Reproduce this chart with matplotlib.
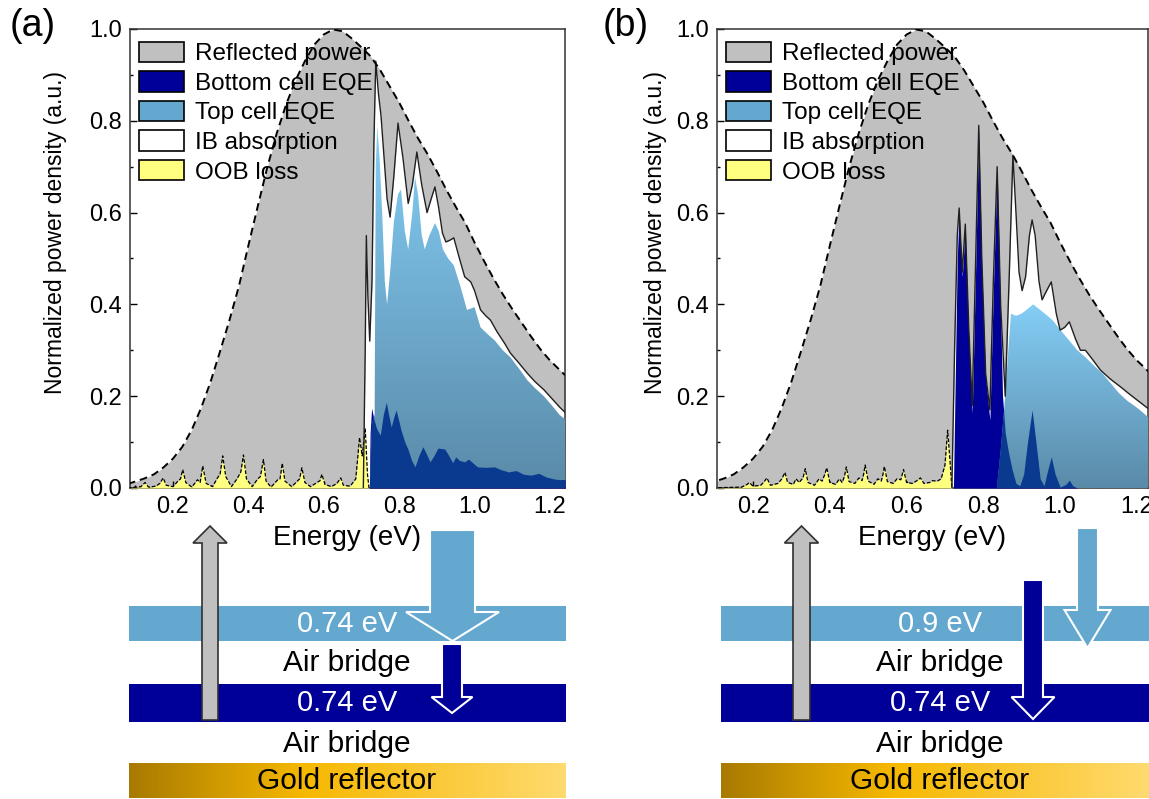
import numpy as np
import matplotlib
matplotlib.use("Agg")
import matplotlib.pyplot as plt
from matplotlib.colors import LinearSegmentedColormap
from matplotlib.patches import Patch, Rectangle, FancyArrow
from matplotlib.ticker import MultipleLocator, FormatStrFormatter

plt.rcParams["font.family"] = ["Liberation Sans", "DejaVu Sans"]

# ---- spectra (energy in eV, normalized power density) ----
# emitted spectrum envelope (dashed), same for both panels
env_e = [0.08, 0.10, 0.125, 0.15, 0.175, 0.20, 0.225, 0.25, 0.275, 0.30, 0.325, 0.35,
         0.375, 0.40, 0.425, 0.45, 0.475, 0.50, 0.525, 0.55, 0.575, 0.60, 0.625, 0.65,
         0.675, 0.70, 0.725, 0.75, 0.775, 0.80, 0.825, 0.85, 0.875, 0.90, 0.925, 0.95,
         0.975, 1.00, 1.025, 1.05, 1.075, 1.10, 1.125, 1.15, 1.175, 1.20, 1.225, 1.24]
env_p = [0.009, 0.014, 0.021, 0.030, 0.045, 0.064, 0.090, 0.127, 0.175, 0.232, 0.298, 0.366,
         0.440, 0.528, 0.614, 0.698, 0.772, 0.835, 0.888, 0.930, 0.966, 0.988, 0.999, 0.995,
         0.979, 0.960, 0.940, 0.910, 0.875, 0.840, 0.800, 0.762, 0.728, 0.690, 0.650, 0.613,
         0.578, 0.535, 0.495, 0.457, 0.422, 0.390, 0.360, 0.330, 0.302, 0.278, 0.258, 0.246]

# (a) out-of-band loss
oob_a_e = [0.08, 0.115, 0.126, 0.135, 0.155, 0.165, 0.174, 0.182, 0.20, 0.212, 0.22, 0.226,
           0.234, 0.25, 0.265, 0.272, 0.279, 0.288, 0.305, 0.318, 0.325, 0.332, 0.34, 0.355,
           0.37, 0.38, 0.387, 0.395, 0.41, 0.425, 0.432, 0.44, 0.447, 0.46, 0.478, 0.484,
           0.49, 0.497, 0.515, 0.53, 0.536, 0.542, 0.55, 0.565, 0.582, 0.59, 0.595, 0.603,
           0.62, 0.635, 0.645, 0.652, 0.67, 0.685, 0.695, 0.702, 0.71, 0.716, 0.72]
oob_a_p = [0.0, 0.003, 0.012, 0.002, 0.004, 0.010, 0.022, 0.006, 0.003, 0.014, 0.020, 0.040,
           0.012, 0.002, 0.018, 0.012, 0.048, 0.010, 0.003, 0.022, 0.030, 0.070, 0.025, 0.003,
           0.020, 0.035, 0.072, 0.020, 0.003, 0.020, 0.025, 0.062, 0.015, 0.002, 0.018, 0.020,
           0.054, 0.015, 0.003, 0.015, 0.020, 0.044, 0.012, 0.003, 0.012, 0.016, 0.030, 0.008,
           0.003, 0.010, 0.022, 0.006, 0.004, 0.020, 0.110, 0.070, 0.130, 0.030, 0.0]

# (a) total absorbed (IB + top + bottom), black line
tot_a_e = [0.705, 0.710, 0.713, 0.717, 0.722, 0.728, 0.733, 0.738, 0.745, 0.752, 0.76, 0.768,
           0.776, 0.786, 0.797, 0.81, 0.824, 0.835, 0.847, 0.86, 0.874, 0.885, 0.895, 0.905,
           0.915, 0.924, 0.935, 0.945, 0.96, 0.974, 0.99, 1.0, 1.016, 1.03, 1.042, 1.06,
           1.08, 1.095, 1.12, 1.14, 1.16, 1.184, 1.205, 1.226, 1.24]
tot_a_p = [0.0, 0.30, 0.55, 0.42, 0.32, 0.45, 0.75, 0.93, 0.86, 0.81, 0.72, 0.63,
           0.59, 0.68, 0.795, 0.72, 0.62, 0.66, 0.732, 0.66, 0.60, 0.63, 0.656, 0.61,
           0.555, 0.536, 0.54, 0.545, 0.50, 0.46, 0.449, 0.43, 0.388, 0.375, 0.366, 0.34,
           0.315, 0.294, 0.27, 0.25, 0.232, 0.214, 0.195, 0.176, 0.165]

# (a) top cell + bottom cell
top_a_e = [0.722, 0.728, 0.735, 0.738, 0.742, 0.748, 0.755, 0.762, 0.768, 0.776, 0.786, 0.797,
           0.805, 0.815, 0.824, 0.835, 0.842, 0.85, 0.86, 0.868, 0.88, 0.895, 0.905, 0.916,
           0.93, 0.945, 0.963, 0.98, 1.0, 1.016, 1.035, 1.053, 1.075, 1.095, 1.12, 1.14,
           1.16, 1.184, 1.205, 1.226, 1.24]
top_a_p = [0.0, 0.14, 0.16, 0.70, 0.79, 0.72, 0.60, 0.45, 0.40, 0.47, 0.58, 0.64,
           0.65, 0.56, 0.52, 0.60, 0.678, 0.64, 0.55, 0.52, 0.55, 0.577, 0.56, 0.52,
           0.50, 0.485, 0.438, 0.388, 0.394, 0.35, 0.335, 0.322, 0.30, 0.285, 0.258, 0.235,
           0.218, 0.20, 0.18, 0.159, 0.15]

# (a) bottom cell
bot_a_e = [0.721, 0.723, 0.727, 0.733, 0.74, 0.75, 0.758, 0.766, 0.772, 0.779, 0.786, 0.792,
           0.798, 0.805, 0.815, 0.824, 0.833, 0.842, 0.852, 0.863, 0.872, 0.882, 0.892, 0.903,
           0.912, 0.921, 0.932, 0.942, 0.95, 0.96, 0.974, 0.984, 0.995, 1.008, 1.03, 1.053,
           1.07, 1.09, 1.11, 1.13, 1.15, 1.17, 1.19, 1.21, 1.226, 1.24]
bot_a_p = [0.0, 0.12, 0.174, 0.15, 0.13, 0.115, 0.16, 0.187, 0.16, 0.133, 0.155, 0.17,
           0.15, 0.126, 0.10, 0.083, 0.06, 0.046, 0.07, 0.09, 0.075, 0.057, 0.07, 0.087,
           0.086, 0.085, 0.07, 0.055, 0.068, 0.06, 0.057, 0.063, 0.055, 0.046, 0.045, 0.046,
           0.04, 0.035, 0.038, 0.03, 0.028, 0.032, 0.024, 0.02, 0.018, 0.018]

# (b) out-of-band loss
oob_b_e = [0.08, 0.17, 0.185, 0.19, 0.20, 0.22, 0.23, 0.236, 0.245, 0.265, 0.275, 0.283,
           0.29, 0.305, 0.312, 0.32, 0.33, 0.336, 0.343, 0.36, 0.372, 0.38, 0.386, 0.392,
           0.40, 0.415, 0.425, 0.432, 0.438, 0.443, 0.45, 0.465, 0.476, 0.484, 0.488, 0.492,
           0.50, 0.515, 0.525, 0.534, 0.538, 0.542, 0.55, 0.565, 0.575, 0.585, 0.592, 0.60,
           0.615, 0.625, 0.636, 0.645, 0.66, 0.667, 0.68, 0.69, 0.70, 0.707, 0.713, 0.718]
oob_b_p = [0.0, 0.002, 0.008, 0.012, 0.004, 0.006, 0.015, 0.022, 0.006, 0.010, 0.020, 0.034,
           0.012, 0.008, 0.020, 0.012, 0.022, 0.042, 0.012, 0.006, 0.020, 0.015, 0.028, 0.044,
           0.012, 0.008, 0.020, 0.012, 0.025, 0.046, 0.014, 0.010, 0.022, 0.016, 0.030, 0.050,
           0.015, 0.008, 0.020, 0.015, 0.028, 0.047, 0.014, 0.010, 0.020, 0.018, 0.040, 0.012,
           0.010, 0.015, 0.022, 0.010, 0.012, 0.016, 0.015, 0.020, 0.050, 0.126, 0.060, 0.0]

# (b) total absorbed
tot_b_e = [0.718, 0.725, 0.732, 0.737, 0.745, 0.753, 0.762, 0.771, 0.78, 0.788, 0.796, 0.806,
           0.817, 0.826, 0.836, 0.845, 0.857, 0.867, 0.877, 0.885, 0.893, 0.901, 0.91, 0.92,
           0.927, 0.935, 0.945, 0.953, 0.965, 0.977, 0.99, 1.0, 1.012, 1.024, 1.04, 1.053,
           1.066, 1.08, 1.105, 1.13, 1.158, 1.18, 1.2, 1.228, 1.24]
tot_b_p = [0.0, 0.30, 0.55, 0.61, 0.47, 0.575, 0.35, 0.18, 0.50, 0.79, 0.50, 0.25,
           0.17, 0.45, 0.70, 0.40, 0.20, 0.45, 0.725, 0.60, 0.47, 0.43, 0.46, 0.55,
           0.584, 0.55, 0.45, 0.41, 0.43, 0.449, 0.38, 0.344, 0.35, 0.362, 0.325, 0.30,
           0.30, 0.285, 0.257, 0.238, 0.22, 0.205, 0.192, 0.174, 0.165]

# (b) top cell + bottom cell
top_b_e = [0.835, 0.845, 0.855, 0.865, 0.872, 0.885, 0.90, 0.915, 0.93, 0.945, 0.96, 0.98,
           1.0, 1.023, 1.045, 1.066, 1.09, 1.11, 1.13, 1.153, 1.175, 1.197, 1.215, 1.228, 1.24]
top_b_p = [0.0, 0.08, 0.18, 0.30, 0.38, 0.375, 0.38, 0.39, 0.40, 0.39, 0.38, 0.366,
           0.345, 0.322, 0.30, 0.285, 0.265, 0.25, 0.23, 0.207, 0.19, 0.177, 0.165, 0.155, 0.15]

# (b) bottom cell
bot_b_e = [0.722, 0.727, 0.732, 0.737, 0.745, 0.753, 0.762, 0.771, 0.78, 0.788, 0.796, 0.806,
           0.817, 0.826, 0.836, 0.843, 0.85, 0.857, 0.865, 0.875, 0.885, 0.895, 0.905, 0.915,
           0.927, 0.937, 0.948, 0.958, 0.968, 0.977, 0.987, 1.0, 1.015, 1.024, 1.033, 1.045, 1.24]
bot_b_p = [0.0, 0.25, 0.50, 0.606, 0.46, 0.569, 0.33, 0.163, 0.48, 0.787, 0.48, 0.24,
           0.148, 0.43, 0.697, 0.45, 0.20, 0.12, 0.08, 0.04, 0.01, 0.005, 0.03, 0.10,
           0.17, 0.10, 0.02, 0.005, 0.04, 0.068, 0.03, 0.002, 0.008, 0.017, 0.005, 0.0, 0.0]

legend_labels = ["Reflected power", "Bottom cell EQE", "Top cell EQE", "IB absorption", "OOB loss"]

C_GRAY = "#c0c0c0"
C_NAVY = "#000099"
C_NAVY_MIX = "#0a3a90"
C_TOP = "#64a8d0"
C_TOP_HI = "#84cef6"
C_TOP_LO = "#5a8aa8"
C_OOB = "#ffff80"


def gradient_fill(ax, x, y, c_top, c_bot, zorder):
    poly = ax.fill_between(x, 0, y, color="none", lw=0)
    path = poly.get_paths()[0]
    cmap = LinearSegmentedColormap.from_list("grad", [c_bot, c_top])
    img = ax.imshow(np.linspace(0, 1, 256).reshape(-1, 1), cmap=cmap, aspect="auto",
                    origin="lower", extent=[min(x), max(x), 0, max(y)], zorder=zorder)
    img.set_clip_path(path, transform=ax.transData)
    return path


def draw_panel(ax, oob, tot, top, bot, xlim):
    ax.fill_between(env_e, 0, env_p, color=C_GRAY, lw=0, zorder=1)
    ax.fill_between(tot[0], 0, tot[1], color="white", lw=0, zorder=2)
    ax.fill_between(bot[0], 0, bot[1], color=C_NAVY, lw=0, zorder=3)
    clip = gradient_fill(ax, top[0], top[1], C_TOP_HI, C_TOP_LO, zorder=4)
    mix = ax.fill_between(bot[0], 0, bot[1], color=C_NAVY_MIX, lw=0, zorder=5)
    mix.set_clip_path(clip, transform=ax.transData)
    ax.fill_between(oob[0], 0, oob[1], color=C_OOB, lw=0, zorder=5)
    ax.plot(oob[0], oob[1], color="black", lw=0.9, ls=(0, (3, 1.5)), zorder=6)
    ax.plot(tot[0], tot[1], color="#202020", lw=1.0, zorder=6)
    ax.plot(env_e, env_p, color="black", lw=1.4, ls=(0, (4, 2.5)), zorder=7)

    ax.set_xlim(*xlim)
    ax.set_ylim(0, 1.0)
    ax.xaxis.set_major_locator(MultipleLocator(0.2))
    ax.xaxis.set_minor_locator(MultipleLocator(0.1))
    ax.yaxis.set_major_locator(MultipleLocator(0.2))
    ax.yaxis.set_minor_locator(MultipleLocator(0.1))
    ax.xaxis.set_major_formatter(FormatStrFormatter("%.1f"))
    ax.yaxis.set_major_formatter(FormatStrFormatter("%.1f"))
    ax.tick_params(which="both", direction="in", labelsize=17, top=False, right=False)
    ax.tick_params(which="major", length=5, width=1, pad=6)
    ax.tick_params(which="minor", length=2.5, width=1)
    for s in ax.spines.values():
        s.set_linewidth(1.1)
        s.set_color("#333333")
    ax.set_xlabel("Energy (eV)", fontsize=20, labelpad=5)
    ax.set_ylabel("Normalized power density (a.u.)", fontsize=16.5)

    handles = [Patch(facecolor=c, edgecolor="black", lw=1.2)
               for c in [C_GRAY, C_NAVY, C_TOP, "white", C_OOB]]
    ax.legend(handles, legend_labels, loc="upper left", bbox_to_anchor=(0.02, 0.972),
              frameon=False, fontsize=17.5, handlelength=1.85, handleheight=0.9,
              handletextpad=0.45, labelspacing=0.25, borderpad=0, borderaxespad=0).set_zorder(10)


fig = plt.figure(figsize=(11.49, 7.99), dpi=100)

# schematic layer in pixel coordinates
sk = fig.add_axes([0, 0, 1, 1], zorder=-1)
sk.set_xlim(0, 1149)
sk.set_ylim(799, 0)
sk.axis("off")

ax_a = fig.add_axes([130 / 1149, 311 / 799, 435 / 1149, 459 / 799])
ax_b = fig.add_axes([717 / 1149, 311 / 799, 431 / 1149, 459 / 799])

draw_panel(ax_a, (oob_a_e, oob_a_p), (tot_a_e, tot_a_p), (top_a_e, top_a_p),
           (bot_a_e, bot_a_p), (0.086, 1.24))
draw_panel(ax_b, (oob_b_e, oob_b_p), (tot_b_e, tot_b_p), (top_b_e, top_b_p),
           (bot_b_e, bot_b_p), (0.106, 1.229))
ax_a.yaxis.set_label_coords(-0.145, 0.556)
ax_b.yaxis.set_label_coords(-0.117, 0.556)

fig.text(33 / 1149, 1 - 26 / 799, "(a)", fontsize=27, ha="center", va="center")
fig.text(626 / 1149, 1 - 26 / 799, "(b)", fontsize=27, ha="center", va="center")

gold = LinearSegmentedColormap.from_list(
    "gold", [(0, "#a87a00"), (0.4, "#f6b800"), (1, "#ffda6e")])


def stack(x0, x1, top_gap, xc, arrows):
    w = x1 - x0
    sk.add_patch(Rectangle((x0, 606), w, 35, color=C_TOP, lw=0))
    sk.add_patch(Rectangle((x0, 684), w, 38, color=C_NAVY, lw=0))
    sk.imshow(np.linspace(0, 1, 256).reshape(1, -1), cmap=gold, aspect="auto",
              extent=[x0, x1, 798, 763], zorder=1)
    sk.text(xc, 624, top_gap, color="white", fontsize=21, ha="center", va="center")
    sk.text(xc, 663, "Air bridge", color="black", fontsize=21.5, ha="center", va="center")
    sk.text(xc, 703, "0.74 eV", color="white", fontsize=21, ha="center", va="center")
    sk.text(xc, 744, "Air bridge", color="black", fontsize=21.5, ha="center", va="center")
    sk.text(xc, 781, "Gold reflector", color="black", fontsize=21.5, ha="center",
            va="center", zorder=2)
    for (x, y0, y1, w_s, w_h, h_l, fc, ec, lw) in arrows:
        sk.add_patch(FancyArrow(x, y0, 0, y1 - y0, width=w_s, head_width=w_h,
                                head_length=h_l, length_includes_head=True,
                                facecolor=fc, edgecolor=ec, lw=lw, zorder=3))


stack(129, 566, "0.74 eV", 347, [
    (210, 720, 526, 16, 34, 17, C_GRAY, "#303030", 1.2),
    (452.5, 530, 641, 45, 93, 29, C_TOP, "white", 1.5),
    (452, 644, 713, 20, 41, 16, C_NAVY, "white", 1.5),
])
stack(721, 1149, "0.9 eV", 940, [
    (801.5, 720, 526, 17, 34, 17, C_GRAY, "#303030", 1.2),
    (1033, 580, 719, 20, 43, 22, C_NAVY, "white", 1.5),
    (1087.5, 528, 648, 21, 46, 38, C_TOP, "white", 1.5),
])

fig.savefig("out.png", dpi=100)
